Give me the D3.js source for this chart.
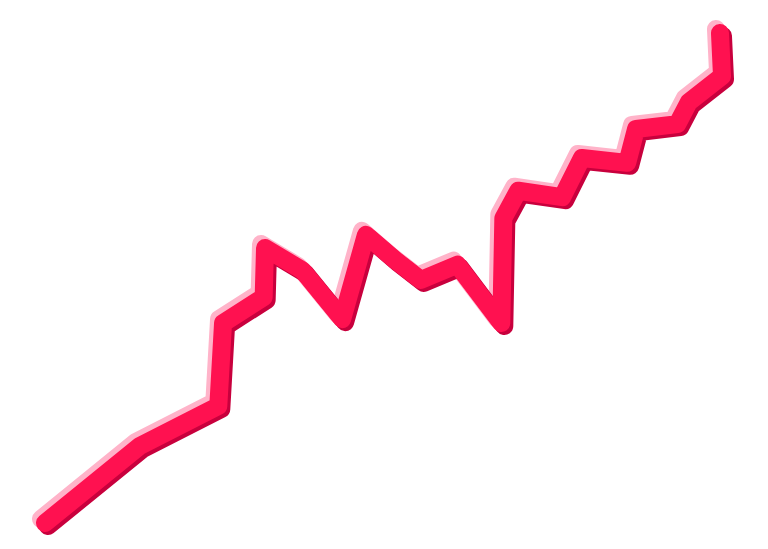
<!DOCTYPE html>
<html><head><meta charset="utf-8">
<script src="https://cdn.jsdelivr.net/npm/d3@7"></script>
<style>html,body{margin:0;padding:0;background:#fff;}svg{display:block}</style>
</head><body>
<svg id="chart" width="768" height="549"></svg>
<script>
const xValues = [0, 14.0, 25.6, 26.3, 32.3, 32.5, 38.0, 43.9, 47.4, 51.7, 55.5, 60.9, 67.4, 67.7, 69.9, 76.4, 79.3, 86.0, 87.3, 93.4, 95.1, 100, 99.7];
const yValues = [0, 15.7, 23.9, 40.8, 46.1, 56.1, 51.6, 41.6, 58.8, 53.7, 49.6, 52.7, 40.8, 62.2, 67.8, 66.5, 74.5, 73.5, 80.4, 81.4, 85.9, 91.2, 100];

const data = xValues.map((x, i) => ({x, y: yValues[i]}));
const svg = d3.select("#chart");
const x = d3.scaleLinear().domain([0, 100]).range([45, 722]);
const y = d3.scaleLinear().domain([0, 100]).range([523, 33]);
const line = d3.line().x(d => x(d.x)).y(d => y(d.y));
const layers = [
  {dx: -4, dy: -4, color: "#ffb3c9"},
  {dx: 3, dy: 3, color: "#c8003d"},
  {dx: 0, dy: 0, color: "#ff1150"}
];
svg.selectAll("path.l").data(layers).join("path")
  .attr("class", "l")
  .attr("d", line(data))
  .attr("transform", d => `translate(${d.dx},${d.dy})`)
  .attr("fill", "none")
  .attr("stroke", d => d.color)
  .attr("stroke-width", 18)
  .attr("stroke-linecap", "round")
  .attr("stroke-linejoin", "round");
</script>
</body></html>
